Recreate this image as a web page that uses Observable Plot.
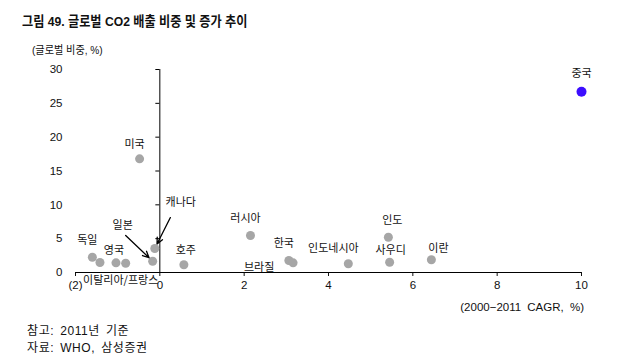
<!DOCTYPE html>
<html><head><meta charset="utf-8">
<script src="https://cdn.jsdelivr.net/npm/d3@7"></script>
<script src="https://cdn.jsdelivr.net/npm/@observablehq/plot@0.6"></script>
<style>
body{margin:0;background:#fff;font-family:"Liberation Sans","Noto Sans CJK KR",sans-serif;}
#wrap{position:relative;width:640px;height:364px;overflow:hidden;background:#fff;}
.t{position:absolute;white-space:nowrap;color:#111;line-height:1;transform-origin:0 0;}
#chart{position:absolute;left:0;top:0;}
</style></head><body>
<div id="wrap">
<div id="chart"></div>
<div class="t" style="left:22px;top:15px;font-size:13.5px;font-weight:bold;transform:scaleX(0.9);">그림 49. 글로벌 CO2 배출 비중 및 증가 추이</div>
<div class="t" style="left:32px;top:45px;font-size:11px;transform:scaleX(0.92);">(글로벌 비중, %)</div>
<div class="t" style="right:56px;top:302px;font-size:11.5px;word-spacing:3px;">(2000−2011 CAGR, %)</div>
<div class="t" style="left:27px;top:325px;font-size:12px;letter-spacing:0.6px;word-spacing:2px;">참고: 2011년 기준</div>
<div class="t" style="left:27px;top:342px;font-size:12px;letter-spacing:0.6px;word-spacing:2px;">자료: WHO, 삼성증권</div>
</div>
<script>
// ---- data ----
const countries = ["중국","미국","독일","이탈리아","영국","프랑스","일본","캐나다","호주","러시아","한국","브라질","인도네시아","인도","사우디","이란"];
const cagr  = [10.0,-0.48,-1.60,-1.42,-1.04,-0.81,-0.17,-0.12,0.57,2.15,3.06,3.16,4.47,5.42,5.45,6.44];
const share = [26.7,16.8,2.26,1.48,1.43,1.37,1.67,3.55,1.14,5.47,1.77,1.43,1.29,5.21,1.52,1.88];
const labels = ["중국","미국","독일","","영국","이탈리아/프랑스","일본","캐나다","호주","러시아","한국","브라질","인도네시아","인도","사우디","이란"];
const xTicks = [-2,0,2,4,6,8,10];
const xTickLabels = ["(2)","0","2","4","6","8","10"];
const yTicks = [0,5,10,15,20,25,30];
// callout arrows: start point (data coords) -> country's dot
const calloutNames = ["일본","캐나다"];
const calloutCagr  = [-0.81,0.25];
const calloutShare = [5.47,8.12];

// ---- layout (pixel offsets of labels from their dots) ----
const labelOffset = {
  "중국":[0,-18],"미국":[-5,-14],"독일":[-5,-17],"영국":[-2,-12],"프랑스":[-5,17],
  "일본":[-30,-36],"캐나다":[26,-46],"호주":[2,-14],"러시아":[-5,-17],"한국":[-5,-17],
  "브라질":[-34,5],"인도네시아":[-15,-15],"인도":[4,-17],"사우디":[1,-12],"이란":[7,-11]
};

const data = countries.map((c,i)=>({country:c, cagr:cagr[i], share:share[i], label:labels[i]}));
const byName = Object.fromEntries(data.map(d=>[d.country,d]));
const callouts = calloutNames.map((n,i)=>({from:[calloutCagr[i],calloutShare[i]], to:byName[n]}));

const gray = "#a6a6a6", blue = "#3c0dff";
const font = "'Noto Sans CJK KR', sans-serif";

const labelMarks = data.filter(d=>d.label).map(d=>Plot.text([d], {
  x:"cagr", y:"share", text:"label",
  dx: labelOffset[d.country][0], dy: labelOffset[d.country][1],
  fontSize: 11, fill:"#111", fontFamily: font
}));

const chart = Plot.plot({
  width: 640, height: 320,
  marginLeft: 75, marginRight: 59, marginTop: 69, marginBottom: 48,
  style: {background:"transparent", fontFamily:"'Liberation Sans', Arial, sans-serif", fontSize:"11.5px", color:"#111"},
  x: {domain:[-2,10]},
  y: {domain:[0,30]},
  marks: [
    Plot.axisY(yTicks, {anchor:"left", tickSize:0, tickPadding:13, label:null, fontSize:11.5}),
    Plot.axisX(xTicks, {anchor:"bottom", tickSize:4, tickPadding:4, label:null,
      tickFormat: d => xTickLabels[xTicks.indexOf(d)], fontSize:11.5}),
    Plot.ruleY([0], {stroke:"#000", strokeWidth:1}),
    Plot.ruleX([0], {y1:0, y2:30, stroke:"#000", strokeWidth:1}),
    Plot.ruleY(yTicks, {x1:()=>0, x2:()=>0, insetLeft:-4, stroke:"#000", strokeWidth:1}),
    Plot.dot(data.filter(d=>d.country!=="중국"), {x:"cagr", y:"share", r:4.5, fill:gray, stroke:null}),
    Plot.dot(data.filter(d=>d.country==="중국"), {x:"cagr", y:"share", r:5, fill:blue, stroke:null}),
    Plot.arrow(callouts, {x1:d=>d.from[0], y1:d=>d.from[1], x2:d=>d.to.cagr, y2:d=>d.to.share,
      insetEnd:5, stroke:"#000", strokeWidth:1.3, headLength:8, headAngle:50}),
    ...labelMarks
  ]
});
document.getElementById("chart").appendChild(chart);
</script>
</body></html>
